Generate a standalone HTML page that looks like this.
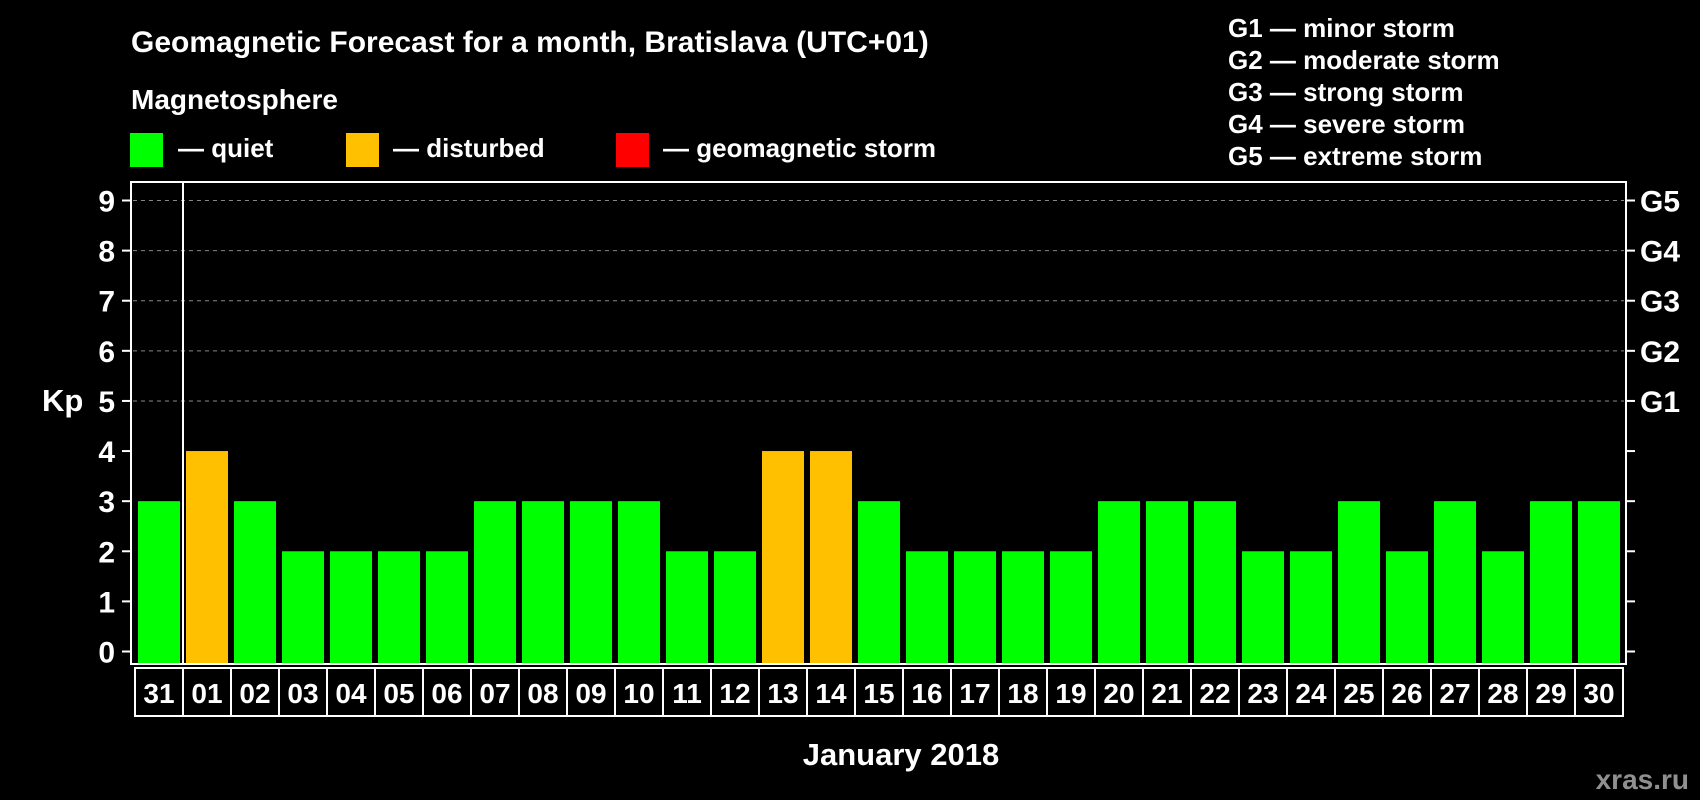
<!DOCTYPE html>
<html><head><meta charset="utf-8"><style>
html,body{margin:0;padding:0;background:#000;}
svg{display:block;font-family:"Liberation Sans",Arial,sans-serif;font-weight:bold;}
</style></head><body>
<svg id="chart" width="1700" height="800" viewBox="0 0 1700 800">
<text x="131" y="52" fill="#fff" font-size="30">Geomagnetic Forecast for a month, Bratislava (UTC+01)</text>
<text x="131" y="109" fill="#fff" font-size="28">Magnetosphere</text>
<g><rect x="130" y="133" width="33" height="34" fill="#00ff00"/><text x="178" y="157" fill="#fff" font-size="26">— quiet</text></g>
<g><rect x="346" y="133" width="33" height="34" fill="#ffc000"/><text x="393" y="157" fill="#fff" font-size="26">— disturbed</text></g>
<g><rect x="616" y="133" width="33" height="34" fill="#ff0000"/><text x="663" y="157" fill="#fff" font-size="26">— geomagnetic storm</text></g>
<g fill="#fff" font-size="26">
<text x="1228" y="37">G1 — minor storm</text>
<text x="1228" y="69">G2 — moderate storm</text>
<text x="1228" y="101">G3 — strong storm</text>
<text x="1228" y="133">G4 — severe storm</text>
<text x="1228" y="165">G5 — extreme storm</text>
</g>
<text x="42" y="411" fill="#fff" font-size="31">Kp</text>
<text x="901" y="765" fill="#fff" font-size="31" text-anchor="middle">January 2018</text>
<text x="1689" y="789" fill="#909090" font-size="28" text-anchor="end">xras.ru</text>
<g id="plot"></g>
</svg>
<script>
const days=["31","01","02","03","04","05","06","07","08","09","10","11","12","13","14","15","16","17","18","19","20","21","22","23","24","25","26","27","28","29","30"];
const kp=[3,4,3,2,2,2,2,3,3,3,3,2,2,4,4,3,2,2,2,2,3,3,3,2,2,3,2,3,2,3,3];
const yTicks=[0,1,2,3,4,5,6,7,8,9];
const gLabels=["G1","G2","G3","G4","G5"];
const gLevels=[5,6,7,8,9];
const NS="http://www.w3.org/2000/svg";
const g=document.getElementById('plot');
const L=131,R=1626,T=182,B=664,y0=651.5,y9=200.5;
const cellL=135,cellW=48;
function y(v){return y0-(y0-y9)*v/9;}
function x(i){return cellL+i*cellW;}
function mk(t,a,p){const e=document.createElementNS(NS,t);for(const k in a)e.setAttribute(k,a[k]);(p||g).appendChild(e);return e;}
yTicks.forEach(v=>{
  if(v>=5){const l=mk('line',{x1:L+2,x2:R-2,y1:y(v),y2:y(v),stroke:'#888','stroke-dasharray':'4,4','stroke-width':1});
  
  }
  const t=mk('line',{x1:L-9,x2:L,y1:y(v),y2:y(v),stroke:'#fff','stroke-width':2});
  
  
  const t2=mk('line',{x1:R,x2:R+9,y1:y(v),y2:y(v),stroke:'#fff','stroke-width':2});
  
  
  const tx=mk('text',{x:115,y:y(v)+11,fill:'#fff','font-size':30,'text-anchor':'end'});
  tx.textContent=v;
  
  
});
gLabels.forEach((s,i)=>{
  const tx=mk('text',{x:1640,y:y(gLevels[i])+11,fill:'#fff','font-size':30});
  tx.textContent=s;
  
  
});
kp.forEach((v,i)=>{
  const r=mk('rect',{x:x(i)+3,y:y(v),width:42,height:B-1-y(v),fill:v>=5?'#ff0000':(v>=4?'#ffc000':'#00ff00')});
  
  
});
const fr=mk('rect',{x:L,y:T,width:R-L,height:B-T,fill:'none',stroke:'#fff','stroke-width':2});


const sep=mk('line',{x1:x(1),x2:x(1),y1:T,y2:B,stroke:'#fff','stroke-width':2});


days.forEach((d,i)=>{
  const c=mk('rect',{x:x(i),y:668,width:cellW,height:48,fill:'none',stroke:'#fff','stroke-width':2});
  
  
  const t=mk('text',{x:x(i)+cellW/2,y:703,fill:'#fff','font-size':28,'text-anchor':'middle'});
  t.textContent=d;
  
  
});
</script>
</body></html>
